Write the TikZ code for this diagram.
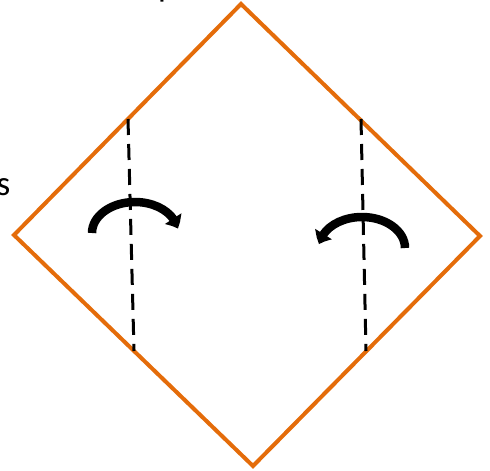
\documentclass[tikz,border=0pt]{standalone}
\usepackage{fontspec}
\setmainfont{Carlito}
\usepackage{tikz}
\usetikzlibrary{arrows.meta,bending}
\definecolor{FoldOrange}{HTML}{E46C0A}

\begin{document}
\begin{tikzpicture}[x=1pt,y=-1pt,every node/.style={font=\fontsize{35}{40}\selectfont,inner sep=0pt},
    edge/.style={draw=FoldOrange,line width=4pt,line join=miter},
    crease/.style={draw=black,line width=3pt,dash pattern=on 16pt off 9pt},
    turn/.style={draw=black,line width=8.5pt,-{Triangle[width=19pt,length=11pt,bend]}}]
    \useasboundingbox (0,0) rectangle (490,471);
    \coordinate (top) at (241,4);
    \coordinate (right) at (480,236);
    \coordinate (bottom) at (253,466);
    \coordinate (left) at (14,235);
    \draw[edge] (top) -- (right) -- (bottom) -- (left) -- cycle;
    \coordinate (lcreaseA) at (128,119);
    \coordinate (lcreaseB) at (134,351);
    \coordinate (rcreaseA) at (361,119);
    \coordinate (rcreaseB) at (366,351);
    \draw[crease] (lcreaseA) -- (lcreaseB);
    \draw[crease] (rcreaseA) -- (rcreaseB);
    \coordinate (lturn) at (92,233);
    \coordinate (rturn) at (405,248);
    \draw[turn] (lturn) arc[start angle=180,end angle=352,x radius=43,y radius=31];
    \draw[turn] (rturn) arc[start angle=0,end angle=-173,x radius=43,y radius=31];
    \node[anchor=base east] (axislbl) at (10.5,195) {s};
    \node[anchor=base west] (toplbl) at (158,-4) {p};
  \end{tikzpicture}
\end{document}
